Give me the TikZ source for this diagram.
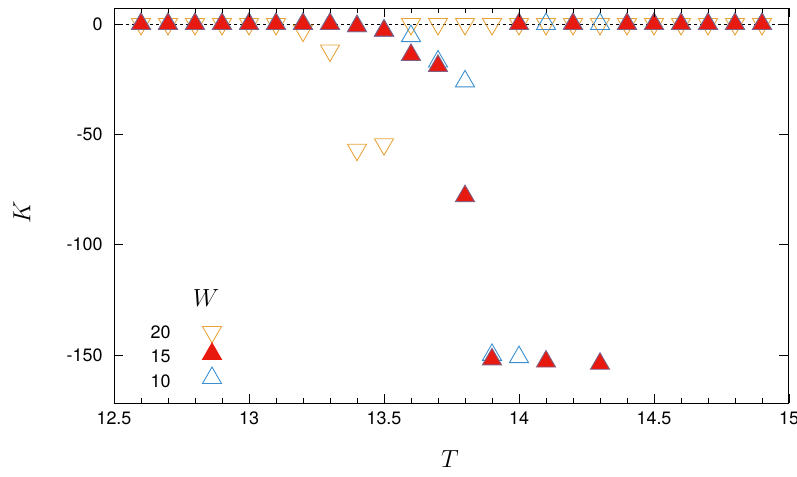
\documentclass[tikz,border=0pt]{standalone}
\usepackage{fontspec}
\setmainfont{TeX Gyre Heros}
\usetikzlibrary{shapes.geometric}
\definecolor{orw}{HTML}{E8A33B}
\definecolor{redw}{HTML}{E8190F}
\definecolor{bluw}{HTML}{3B8FD0}
\tikzset{
 up/.style={regular polygon,regular polygon sides=3,minimum size=22bp,inner sep=0pt,line width=0.9pt},
 dn/.style={up,shape border rotate=180},
 wtw/.style={dn,draw=orw},
 wfif/.style={up,draw=bluw!60!redw,fill=redw},
 wten/.style={up,draw=bluw},
 tl/.style={font=\fontsize{18}{20}\selectfont}
}
\newcommand{\px}[1]{114+270*(#1-12.5)}
\newcommand{\py}[1]{24-2.206*(#1)}
\begin{document}
\begin{tikzpicture}[x=1bp,y=-1bp]
\useasboundingbox (0,0) rectangle (797,477);
\draw[dashed,line width=0.6pt] (114,24) -- (788,24);
% W=20
\foreach \t/\k in {12.6/0,12.7/0,12.8/0,12.9/0,13.0/0,13.1/0,13.2/-3,13.3/-12,13.4/-57,13.5/-54.5,13.6/0,13.7/0,13.8/0,13.9/0,14.0/0,14.1/0,14.2/0,14.3/0,14.4/0,14.5/0,14.6/0,14.7/0,14.8/0,14.9/0}
  \node[wtw] at ({\px{\t}},{\py{\k}}) {};
% W=10
\foreach \t/\k in {12.6/0,12.7/0,12.8/0,12.9/0,13.0/0,13.1/0,13.2/0,13.3/0,13.4/-1,13.5/-3,13.6/-5.5,13.7/-17,13.8/-26,13.9/-150,14.0/-151,14.1/0,14.2/0,14.3/0,14.4/0,14.5/0,14.6/0,14.7/0,14.8/0,14.9/0}
  \node[wten] at ({\px{\t}},{\py{\k}}) {};
% W=15
\foreach \t/\k in {12.6/0,12.7/0,12.8/0,12.9/0,13.0/0,13.1/0,13.2/0,13.3/0,13.4/-1,13.5/-3,13.6/-14,13.7/-19,13.8/-78,13.9/-152,14.0/0,14.1/-153,14.2/0,14.3/-154,14.4/0,14.5/0,14.6/0,14.7/0,14.8/0,14.9/0}
  \node[wfif] at ({\px{\t}},{\py{\k}}) {};
% frame and ticks
\draw[line width=0.9pt] (114,8) rectangle (788,403);
\foreach \i in {1,...,24} {
  \draw ({114+27*\i},403) -- ++(0,-5);
  \draw ({114+27*\i},8) -- ++(0,5);
}
\foreach \t in {12.5,13,13.5,14,14.5,15} {
  \draw ({\px{\t}},403) -- ++(0,-9);
  \draw ({\px{\t}},8) -- ++(0,9);
  \node[tl,below] at ({\px{\t}},408) {\t};
}
\foreach \k in {0,-50,-100,-150} {
  \draw (114,{\py{\k}}) -- ++(9,0);
  \draw (788,{\py{\k}}) -- ++(-9,0);
  \node[tl,left] at (106,{\py{\k}}) {\k};
}
\node[font=\fontsize{34}{36}\selectfont] at (450,459) {$T$};
\node[font=\fontsize{34}{36}\selectfont,rotate=90] at (22,212) {$K$};
% legend
\node[font=\fontsize{30}{32}\selectfont] at (206,298) {$W$};
\node[tl,anchor=east] at (174,332) {20};
\node[tl,anchor=east] at (174,356) {15};
\node[tl,anchor=east] at (174,381) {10};
\node[wtw] at (212,332) {};
\node[up,draw=redw,fill=redw] at (212,354) {};
\node[wten] at (212,378) {};
\end{tikzpicture}
\end{document}
